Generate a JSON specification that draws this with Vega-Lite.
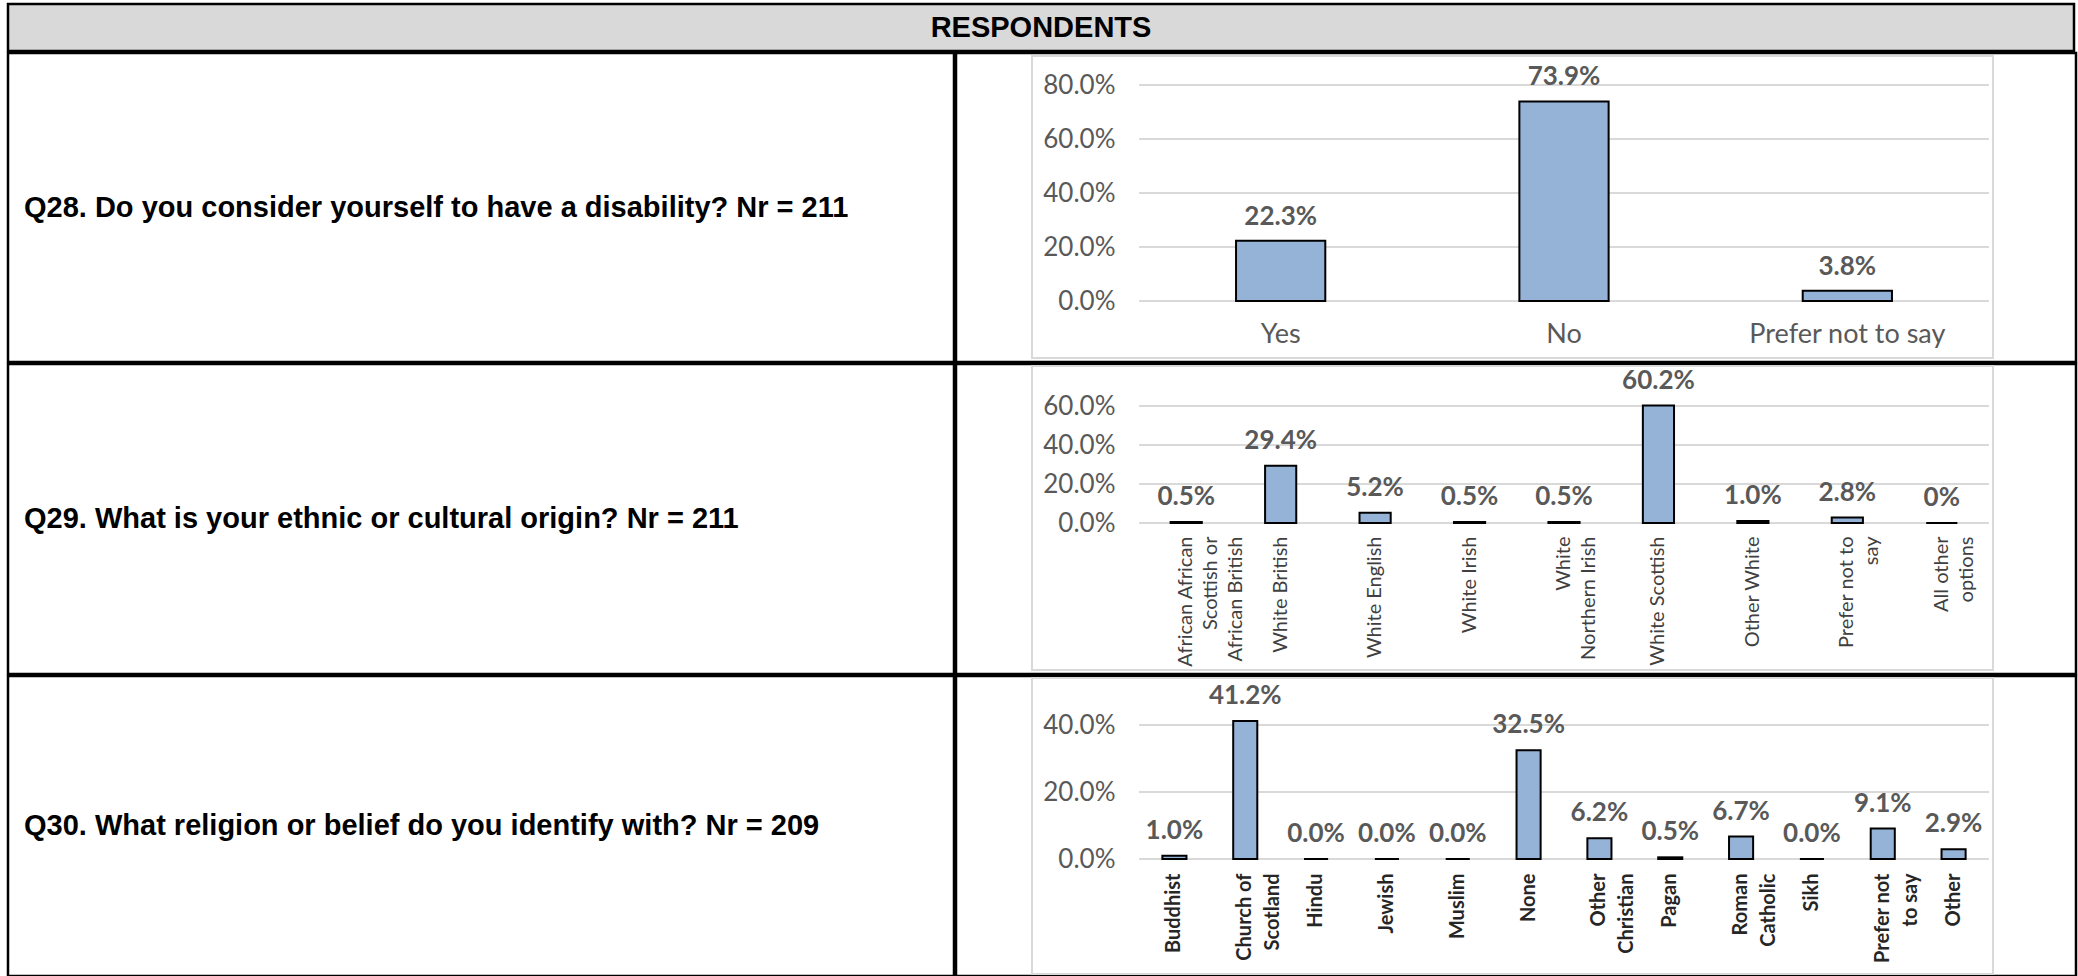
{
  "$schema": "https://vega.github.io/schema/vega-lite/v6.json",
  "padding": {"left": 6, "top": 2, "right": 0, "bottom": 0},
  "background": "white",
  "spacing": -5,
  "datasets": {
    "header": [{"h": "RESPONDENTS"}],
    "q28text": [{"q": "Q28. Do you consider yourself to have a disability? Nr = 211"}],
    "q29text": [{"q": "Q29. What is your ethnic or cultural origin? Nr = 211"}],
    "q30text": [{"q": "Q30. What religion or belief do you identify with? Nr = 209"}],
    "box": [{"b": 1}],
    "grid28": [{"v": 0}, {"v": 0.2}, {"v": 0.4}, {"v": 0.6}, {"v": 0.8}],
    "grid29": [{"v": 0}, {"v": 0.2}, {"v": 0.4}, {"v": 0.6}],
    "grid30": [{"v": 0}, {"v": 0.2}, {"v": 0.4}],
    "q28": [
      {"cat": "Yes", "value": 0.223, "label": "22.3%"},
      {"cat": "No", "value": 0.739, "label": "73.9%"},
      {"cat": "Prefer not to say", "value": 0.038, "label": "3.8%"}
    ],
    "q29": [
      {"cat": "African African Scottish or African British", "value": 0.005, "label": "0.5%"},
      {"cat": "White British", "value": 0.294, "label": "29.4%"},
      {"cat": "White English", "value": 0.052, "label": "5.2%"},
      {"cat": "White Irish", "value": 0.005, "label": "0.5%"},
      {"cat": "White Northern Irish", "value": 0.005, "label": "0.5%"},
      {"cat": "White Scottish", "value": 0.602, "label": "60.2%"},
      {"cat": "Other White", "value": 0.010, "label": "1.0%"},
      {"cat": "Prefer not to say", "value": 0.028, "label": "2.8%"},
      {"cat": "All other options", "value": 0, "label": "0%"}
    ],
    "q30": [
      {"cat": "Buddhist", "value": 0.010, "label": "1.0%"},
      {"cat": "Church of Scotland", "value": 0.412, "label": "41.2%"},
      {"cat": "Hindu", "value": 0, "label": "0.0%"},
      {"cat": "Jewish", "value": 0, "label": "0.0%"},
      {"cat": "Muslim", "value": 0, "label": "0.0%"},
      {"cat": "None", "value": 0.325, "label": "32.5%"},
      {"cat": "Other Christian", "value": 0.062, "label": "6.2%"},
      {"cat": "Pagan", "value": 0.005, "label": "0.5%"},
      {"cat": "Roman Catholic", "value": 0.067, "label": "6.7%"},
      {"cat": "Sikh", "value": 0, "label": "0.0%"},
      {"cat": "Prefer not to say", "value": 0.091, "label": "9.1%"},
      {"cat": "Other", "value": 0.029, "label": "2.9%"}
    ]
  },
  "vconcat": [
    {
      "data": {"name": "header"},
      "width": 2066,
      "height": 47,
      "view": {"fill": "#d9d9d9", "stroke": "black", "strokeWidth": 2.5},
      "mark": {"type": "text", "font": "Liberation Sans", "fontWeight": "bold", "fontSize": 29, "fill": "black", "baseline": "middle"},
      "encoding": {"text": {"field": "h"}}
    },
    {
      "spacing": -5,
      "hconcat": [
        {
          "data": {"name": "q28text"},
          "width": 946,
          "height": 309,
          "view": {"stroke": "black", "strokeWidth": 2.5},
          "mark": {"type": "text", "align": "left", "baseline": "middle", "dx": 16, "font": "Liberation Sans", "fontWeight": "bold", "fontSize": 29, "fill": "black"},
          "encoding": {
            "x": {"datum": 0, "type": "quantitative", "scale": {"domain": [0, 1]}, "axis": null},
            "text": {"field": "q"}
          }
        },
        {
          "width": 1120,
          "height": 309,
          "view": {"stroke": "black", "strokeWidth": 2.5},
          "resolve": {"scale": {"x": "independent", "y": "independent"}},
          "layer": [
            {
              "data": {"name": "box"},
              "mark": {"type": "rect", "fill": "transparent", "stroke": "#d9d9d9", "strokeWidth": 2},
              "encoding": {
                "x": {"datum": 0, "type": "quantitative", "scale": {"domain": [0, 1], "range": [76, 1037]}, "axis": null},
                "x2": {"datum": 1},
                "y": {"datum": 0, "type": "quantitative", "scale": {"domain": [0, 1], "range": [305, 3]}, "axis": null},
                "y2": {"datum": 1}
              }
            },
            {
              "data": {"name": "grid28"},
              "mark": {"type": "rule", "stroke": "#d9d9d9", "strokeWidth": 2},
              "encoding": {
                "x": {"datum": 0, "type": "quantitative", "scale": {"domain": [0, 1], "range": [183, 1033]}, "axis": null},
                "x2": {"datum": 1},
                "y": {"field": "v", "type": "quantitative", "scale": {"domain": [0, 0.8], "range": [248, 32]}, "axis": null}
              }
            },
            {
              "data": {"name": "q28"},
              "encoding": {
                "x": {"field": "cat", "type": "nominal", "sort": null,
                  "scale": {"range": [183, 1033], "paddingInner": 0.685, "paddingOuter": 0.3425},
                  "axis": {"title": null, "zindex": 1, "domain": false, "ticks": false, "labelAngle": 0, "labelPadding": 20, "offset": -61, "labelFont": "Lato", "labelFontSize": 27, "labelColor": "#595959", "labelLimit": 400, "labelOverlap": false}},
                "y": {"field": "value", "type": "quantitative",
                  "scale": {"domain": [0, 0.8], "range": [248, 32]},
                  "axis": {"title": null, "zindex": 1, "format": ".1%", "values": [0, 0.2, 0.4, 0.6, 0.8], "grid": false, "domain": false, "ticks": false, "labelPadding": 24, "offset": -183, "labelFont": "Lato", "labelFontSize": 26, "labelColor": "#595959"}}
              },
              "layer": [
                {"mark": {"type": "bar", "fill": "#95b3d7", "stroke": "black", "strokeWidth": 2}},
                {"mark": {"type": "text", "baseline": "alphabetic", "dy": -16, "font": "Lato", "fontWeight": "bold", "fontSize": 26, "fill": "#595959"},
                 "encoding": {"text": {"field": "label"}}}
              ]
            }
          ]
        }
      ]
    },
    {
      "spacing": -5,
      "hconcat": [
        {
          "data": {"name": "q29text"},
          "width": 946,
          "height": 310,
          "view": {"stroke": "black", "strokeWidth": 2.5},
          "mark": {"type": "text", "align": "left", "baseline": "middle", "dx": 16, "font": "Liberation Sans", "fontWeight": "bold", "fontSize": 29, "fill": "black"},
          "encoding": {
            "x": {"datum": 0, "type": "quantitative", "scale": {"domain": [0, 1]}, "axis": null},
            "text": {"field": "q"}
          }
        },
        {
          "width": 1120,
          "height": 310,
          "view": {"stroke": "black", "strokeWidth": 2.5},
          "resolve": {"scale": {"x": "independent", "y": "independent"}},
          "layer": [
            {
              "data": {"name": "box"},
              "mark": {"type": "rect", "fill": "transparent", "stroke": "#d9d9d9", "strokeWidth": 2},
              "encoding": {
                "x": {"datum": 0, "type": "quantitative", "scale": {"domain": [0, 1], "range": [76, 1037]}, "axis": null},
                "x2": {"datum": 1},
                "y": {"datum": 0, "type": "quantitative", "scale": {"domain": [0, 1], "range": [306, 2]}, "axis": null},
                "y2": {"datum": 1}
              }
            },
            {
              "data": {"name": "grid29"},
              "mark": {"type": "rule", "stroke": "#d9d9d9", "strokeWidth": 2},
              "encoding": {
                "x": {"datum": 0, "type": "quantitative", "scale": {"domain": [0, 1], "range": [183, 1033]}, "axis": null},
                "x2": {"datum": 1},
                "y": {"field": "v", "type": "quantitative", "scale": {"domain": [0, 0.6], "range": [159, 42]}, "axis": null}
              }
            },
            {
              "data": {"name": "q29"},
              "encoding": {
                "x": {"field": "cat", "type": "nominal", "sort": null,
                  "scale": {"range": [183, 1033], "paddingInner": 0.67, "paddingOuter": 0.335},
                  "axis": {"title": null, "zindex": 1, "domain": false, "ticks": false, "labelAngle": -90, "labelAlign": "right", "labelBaseline": "middle", "labelPadding": 13, "offset": -151, "labelFont": "Lato", "labelFontSize": 20, "labelLineHeight": 25, "labelColor": "#404040", "labelLimit": 400, "labelOverlap": false,
                    "labelExpr": "datum.value == 'African African Scottish or African British' ? ['African African', 'Scottish or', 'African British'] : datum.value == 'White Northern Irish' ? ['White', 'Northern Irish'] : datum.value == 'Prefer not to say' ? ['Prefer not to', 'say'] : datum.value == 'All other options' ? ['All other', 'options'] : datum.label"}},
                "y": {"field": "value", "type": "quantitative",
                  "scale": {"domain": [0, 0.6], "range": [159, 42]},
                  "axis": {"title": null, "zindex": 1, "format": ".1%", "values": [0, 0.2, 0.4, 0.6], "grid": false, "domain": false, "ticks": false, "labelPadding": 24, "offset": -183, "labelFont": "Lato", "labelFontSize": 26, "labelColor": "#595959"}}
              },
              "layer": [
                {"mark": {"type": "bar", "fill": "#95b3d7", "stroke": "black", "strokeWidth": 2}},
                {"mark": {"type": "text", "baseline": "alphabetic", "dy": -17, "font": "Lato", "fontWeight": "bold", "fontSize": 26, "fill": "#595959"},
                 "encoding": {"text": {"field": "label"}}}
              ]
            }
          ]
        }
      ]
    },
    {
      "spacing": -5,
      "hconcat": [
        {
          "data": {"name": "q30text"},
          "width": 946,
          "height": 300,
          "view": {"stroke": "black", "strokeWidth": 2.5},
          "mark": {"type": "text", "align": "left", "baseline": "middle", "dx": 16, "font": "Liberation Sans", "fontWeight": "bold", "fontSize": 29, "fill": "black"},
          "encoding": {
            "x": {"datum": 0, "type": "quantitative", "scale": {"domain": [0, 1]}, "axis": null},
            "text": {"field": "q"}
          }
        },
        {
          "width": 1120,
          "height": 300,
          "view": {"stroke": "black", "strokeWidth": 2.5},
          "resolve": {"scale": {"x": "independent", "y": "independent"}},
          "layer": [
            {
              "data": {"name": "box"},
              "mark": {"type": "rect", "fill": "transparent", "stroke": "#d9d9d9", "strokeWidth": 2},
              "encoding": {
                "x": {"datum": 0, "type": "quantitative", "scale": {"domain": [0, 1], "range": [76, 1037]}, "axis": null},
                "x2": {"datum": 1},
                "y": {"datum": 0, "type": "quantitative", "scale": {"domain": [0, 1], "range": [298, 2]}, "axis": null},
                "y2": {"datum": 1}
              }
            },
            {
              "data": {"name": "grid30"},
              "mark": {"type": "rule", "stroke": "#d9d9d9", "strokeWidth": 2},
              "encoding": {
                "x": {"datum": 0, "type": "quantitative", "scale": {"domain": [0, 1], "range": [183, 1033]}, "axis": null},
                "x2": {"datum": 1},
                "y": {"field": "v", "type": "quantitative", "scale": {"domain": [0, 0.4], "range": [183, 49]}, "axis": null}
              }
            },
            {
              "data": {"name": "q30"},
              "encoding": {
                "x": {"field": "cat", "type": "nominal", "sort": null,
                  "scale": {"range": [183, 1033], "paddingInner": 0.66, "paddingOuter": 0.33},
                  "axis": {"title": null, "zindex": 1, "domain": false, "ticks": false, "labelAngle": -90, "labelAlign": "right", "labelBaseline": "middle", "labelPadding": 14, "offset": -117, "labelFont": "Lato", "labelFontSize": 20, "labelFontWeight": "bold", "labelLineHeight": 28, "labelColor": "#262626", "labelLimit": 400, "labelOverlap": false,
                    "labelExpr": "datum.value == 'Church of Scotland' ? ['Church of', 'Scotland'] : datum.value == 'Other Christian' ? ['Other', 'Christian'] : datum.value == 'Roman Catholic' ? ['Roman', 'Catholic'] : datum.value == 'Prefer not to say' ? ['Prefer not', 'to say'] : datum.label"}},
                "y": {"field": "value", "type": "quantitative",
                  "scale": {"domain": [0, 0.4], "range": [183, 49]},
                  "axis": {"title": null, "zindex": 1, "format": ".1%", "values": [0, 0.2, 0.4], "grid": false, "domain": false, "ticks": false, "labelPadding": 24, "offset": -183, "labelFont": "Lato", "labelFontSize": 26, "labelColor": "#595959"}}
              },
              "layer": [
                {"mark": {"type": "bar", "fill": "#95b3d7", "stroke": "black", "strokeWidth": 2}},
                {"mark": {"type": "text", "baseline": "alphabetic", "dy": -17, "font": "Lato", "fontWeight": "bold", "fontSize": 26, "fill": "#595959"},
                 "encoding": {"text": {"field": "label"}}}
              ]
            }
          ]
        }
      ]
    }
  ],
  "config": {
    "view": {"stroke": null},
    "axis": {"labelFont": "Lato"}
  }
}
